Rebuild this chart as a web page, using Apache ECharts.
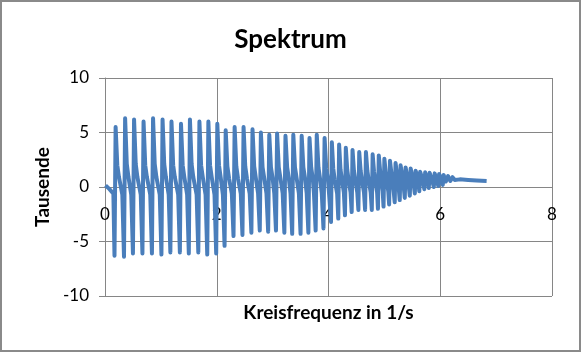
<!DOCTYPE html>
<html>
<head>
<meta charset="utf-8">
<script src="https://cdn.jsdelivr.net/npm/echarts@6/dist/echarts.min.js"></script>
<style>
  html, body { margin: 0; padding: 0; background: #fff; }
  #chart { width: 581px; height: 352px; }
</style>
</head>
<body>
<div id="chart"></div>
<script>
//----------------------Data----------------------
// [Kreisfrequenz, Tausende]
let spec_start = [[0.01, 0.15], [0.08, -0.2], [0.15, -0.6]];

let spec_low = [
    [0.17, -6.3], [0.19, 5.5], [0.22, 2.0], [0.25, 0.9], [0.31, -0.7],
    [0.34, -6.4], [0.36, 6.3], [0.39, 2.1], [0.42, 0.9], [0.47, -0.7],
    [0.50, -6.1], [0.52, 6.2], [0.55, 2.1], [0.58, 0.9], [0.64, -0.7],
    [0.67, -6.1], [0.69, 6.0], [0.72, 2.0], [0.75, 0.9], [0.81, -0.7],
    [0.84, -6.1], [0.86, 6.3], [0.89, 2.1], [0.92, 0.9], [0.98, -0.7],
    [1.01, -6.2], [1.03, 6.2], [1.06, 2.1], [1.09, 0.9], [1.14, -0.7],
    [1.17, -6.0], [1.19, 6.0], [1.22, 2.0], [1.25, 0.9], [1.31, -0.7],
    [1.34, -6.0], [1.36, 5.8], [1.39, 2.0], [1.42, 0.9], [1.47, -0.7],
    [1.50, -6.1], [1.52, 6.2], [1.55, 2.1], [1.58, 0.9], [1.64, -0.7],
    [1.67, -6.0], [1.69, 6.0], [1.72, 2.0], [1.75, 0.9], [1.80, -0.7],
    [1.83, -6.2], [1.85, 6.0], [1.88, 2.0], [1.91, 0.9], [1.96, -0.7],
    [1.99, -6.1], [2.01, 5.8], [2.04, 2.0], [2.07, 0.9], [2.11, -0.7]
];

let spec_mid = [
    [2.14, -5.4], [2.16, 5.2], [2.19, 1.9], [2.22, 0.8], [2.27, -0.6],
    [2.30, -4.5], [2.32, 5.5], [2.35, 1.9], [2.38, 0.8], [2.43, -0.6],
    [2.46, -4.4], [2.48, 5.5], [2.51, 1.9], [2.54, 0.8], [2.59, -0.6],
    [2.62, -4.2], [2.64, 5.3], [2.67, 1.9], [2.70, 0.8], [2.74, -0.6],
    [2.77, -4.0], [2.79, 5.0], [2.82, 1.8], [2.85, 0.8], [2.89, -0.6],
    [2.92, -4.1], [2.94, 4.8], [2.97, 1.8], [3.00, 0.8], [3.03, -0.6],
    [3.06, -4.0], [3.08, 4.9], [3.11, 1.8], [3.14, 0.8], [3.18, -0.6],
    [3.21, -4.2], [3.23, 4.7], [3.26, 1.8], [3.29, 0.8], [3.32, -0.6],
    [3.35, -4.3], [3.37, 4.8], [3.40, 1.8], [3.43, 0.8], [3.47, -0.6],
    [3.50, -4.3], [3.52, 4.7], [3.55, 1.8], [3.58, 0.8], [3.61, -0.6],
    [3.64, -4.2], [3.66, 4.5], [3.69, 1.8], [3.72, 0.7], [3.74, -0.6],
    [3.77, -4.0], [3.79, 4.8], [3.82, 1.8], [3.85, 0.7], [3.88, -0.6],
    [3.91, -3.8], [3.93, 4.5], [3.96, 1.7], [3.99, 0.7], [4.01, -0.6]
];

let spec_high = [
    [4.045, -3.2], [4.06, 4.1], [4.085, 1.7], [4.11, 0.7], [4.155, -0.6],
    [4.175, -2.9], [4.19, 3.9], [4.215, 1.6], [4.24, 0.7], [4.275, -0.5],
    [4.295, -2.6], [4.31, 3.6], [4.335, 1.6], [4.36, 0.6], [4.395, -0.5],
    [4.415, -2.3], [4.43, 3.4], [4.455, 1.5], [4.48, 0.6], [4.515, -0.5],
    [4.535, -2.1], [4.55, 3.2], [4.575, 1.5], [4.60, 0.6], [4.635, -0.5],
    [4.655, -2.1], [4.67, 3.2], [4.695, 1.5], [4.72, 0.6], [4.755, -0.5],
    [4.775, -2.1], [4.79, 3.0], [4.815, 1.4], [4.84, 0.5], [4.87, -0.5],
    [4.885, -2.0], [4.90, 2.9], [4.925, 1.4], [4.97, -0.4],
    [4.985, -1.8], [5.00, 2.6], [5.025, 1.3], [5.07, -0.4],
    [5.085, -1.6], [5.10, 2.4], [5.125, 1.3], [5.165, -0.3],
    [5.185, -1.4], [5.20, 2.2], [5.225, 1.2], [5.26, -0.3],
    [5.275, -1.2], [5.29, 2.0], [5.315, 1.2], [5.35, -0.2],
    [5.365, -1.0], [5.38, 1.8], [5.405, 1.1], [5.44, -0.1],
    [5.455, -0.8], [5.47, 1.7], [5.495, 1.1], [5.53, 0.0],
    [5.545, -0.6], [5.56, 1.5], [5.585, 1.0], [5.615, 0.1],
    [5.625, -0.4], [5.64, 1.4], [5.665, 1.0], [5.70, 0.2],
    [5.715, -0.2], [5.73, 1.35], [5.755, 0.9], [5.785, 0.3]
];

let spec_tail = [
    [5.795, -0.1], [5.81, 1.3], [5.835, 0.9], [5.87, 0.3],
    [5.885, 0.0], [5.90, 1.25], [5.925, 0.8], [5.95, 0.4],
    [5.965, 0.1], [5.98, 1.2], [6.005, 0.8], [6.03, 0.4],
    [6.045, 0.2], [6.06, 1.1], [6.10, 0.5],
    [6.125, 0.35], [6.14, 1.0], [6.18, 0.55],
    [6.21, 0.45], [6.22, 0.9], [6.26, 0.65],
    [6.35, 0.7], [6.50, 0.65], [6.65, 0.6], [6.83, 0.55]
];

let x_ticks = [0, 8, 2];    // min, max, interval
let y_ticks = [-10, 10, 5];

//---------------------Style----------------------
let line_color = "#4A7EBB";
let grid_color = "#868686";
let font_name = "Lato";
let grid_h = 218;

let chart_dom = document.getElementById("chart");
let chart = echarts.init(chart_dom, null, {renderer: "canvas"});

let spec_data = spec_start.concat(spec_low, spec_mid, spec_high, spec_tail);

let option = {
    animation: false,
    backgroundColor: "#fff",
    title: {
        text: "Spektrum",
        left: "center",
        top: 22,
        textStyle: {fontFamily: font_name, fontWeight: "bold", fontSize: 26, color: "#000"}
    },
    grid: {left: 105, top: 78, width: 447, height: grid_h, containLabel: false, outerBoundsMode: "none"},
    xAxis: {
        type: "value",
        min: x_ticks[0], max: x_ticks[1], interval: x_ticks[2],
        // Excel puts the horizontal axis (and its labels) at y = 0
        offset: -grid_h / 2,
        name: "Kreisfrequenz in 1/s",
        nameLocation: "middle",
        nameGap: 116,
        nameTextStyle: {fontFamily: font_name, fontWeight: "bold", fontSize: 19, color: "#000"},
        axisLine: {onZero: false, lineStyle: {color: grid_color, width: 1}},
        axisTick: {show: true, length: 5, lineStyle: {color: grid_color}},
        axisLabel: {margin: 19, fontFamily: font_name, fontSize: 17, color: "#000"},
        splitLine: {show: true, lineStyle: {color: grid_color, width: 1}}
    },
    yAxis: {
        type: "value",
        min: y_ticks[0], max: y_ticks[1], interval: y_ticks[2],
        name: "Tausende",
        nameLocation: "middle",
        nameGap: 53,
        nameTextStyle: {fontFamily: font_name, fontWeight: "bold", fontSize: 19, color: "#000"},
        axisLine: {show: true, lineStyle: {color: grid_color, width: 1}},
        axisTick: {show: true, length: 6, lineStyle: {color: grid_color}},
        axisLabel: {margin: 16, fontFamily: font_name, fontSize: 17, color: "#000"},
        splitLine: {show: true, lineStyle: {color: grid_color, width: 1}}
    },
    graphic: [{
        type: "rect",
        shape: {x: 1, y: 1, width: 579, height: 350},
        style: {fill: "none", stroke: "#8a8a8a", lineWidth: 2},
        silent: true
    }],
    series: [{
        type: "line",
        name: "Spektrum",
        data: spec_data,
        showSymbol: false,
        symbol: "none",
        lineStyle: {color: line_color, width: 4, join: "round"},
        z: 3
    }]
};
chart.setOption(option);
</script>
</body>
</html>
